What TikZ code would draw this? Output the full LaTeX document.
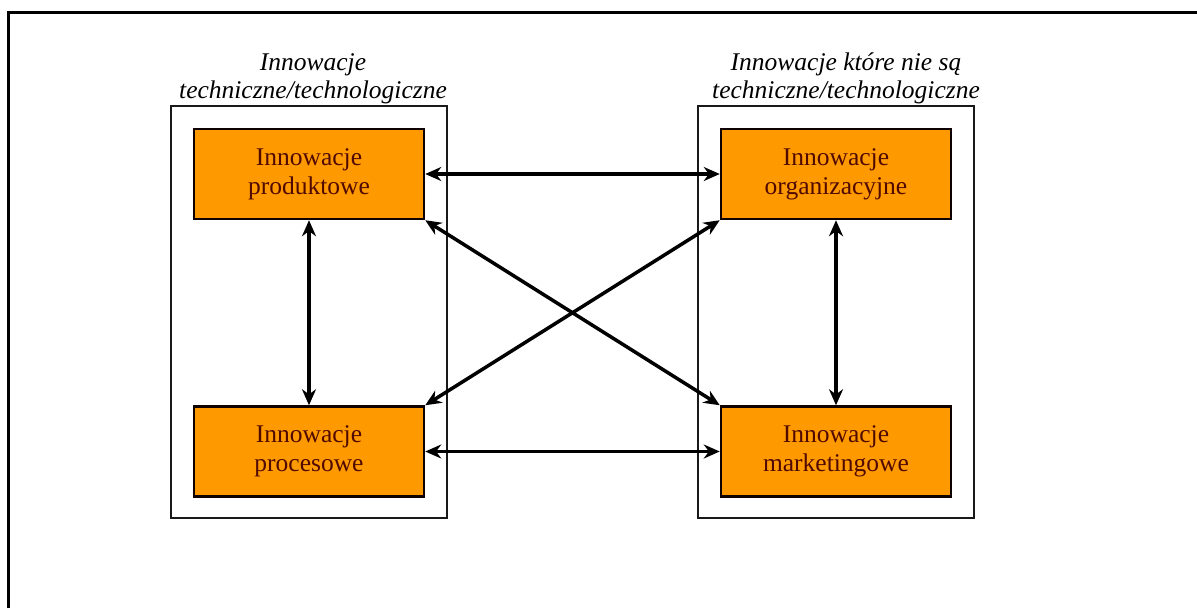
\documentclass[tikz,border=0pt]{standalone}
\usepackage{fontspec}
\setmainfont{Liberation Serif}
\usetikzlibrary{arrows.meta}

\definecolor{boxorange}{RGB}{255,153,0}
\definecolor{boxtext}{RGB}{80,10,0}

\tikzset{every picture/.style={line width=1pt}}
\tikzset{
  kind/.style={draw=black!90, line width=2.5pt, minimum width=276, minimum height=412},
  innov/.style={draw=black!80!boxtext, fill=boxorange, line width=2.5pt, text=boxtext,
    minimum width=230, minimum height=90, align=center, inner sep=0pt,
    font=\fontsize{25.5}{29}\selectfont},
  kindtitle/.style={anchor=south, align=center, inner sep=0pt,
    font=\itshape\fontsize{25.5}{28}\selectfont},
  link/.style={{Stealth[length=16pt,width=14pt]}-{Stealth[length=16pt,width=14pt]}, line width=3.5pt}
}

\begin{document}
\begin{tikzpicture}[x=1pt,y=1pt,yscale=-1,xscale=1]
	\useasboundingbox (0,0) rectangle (1197,608);

	%Frame
	\draw [line width=3pt] (8,608) -- (8,12) -- (1197,12) ;

	%Group boxes
	\node [kind] (tech) at (309,312) {};
	\node [kind] (nontech) at (836,312) {};

	% Text Node
	\node [kindtitle] (techtitle) at (313,104) {Innowacje\\techniczne/technologiczne};
	% Text Node
	\node [kindtitle] (nontechtitle) at (846,104) {Innowacje które nie są\\techniczne/technologiczne};

	%Innovation boxes
	\node [innov] (prod) at (309,174) {Innowacje\\produktowe};
	\node [innov] (proc) at (309,451.5) {Innowacje\\procesowe};
	\node [innov] (org) at (836,174) {Innowacje\\organizacyjne};
	\node [innov] (mark) at (836,451.5) {Innowacje\\marketingowe};

	%Arrows
	\draw [link] (prod.east) -- (org.west) ;
	\draw [link] (proc.east) -- (mark.west) ;
	\draw [link] (prod.south) -- (proc.north) ;
	\draw [link] (org.south) -- (mark.north) ;
	\draw [link] (prod.south east) -- (mark.north west) ;
	\draw [link] (proc.north east) -- (org.south west) ;

\end{tikzpicture}
\end{document}
